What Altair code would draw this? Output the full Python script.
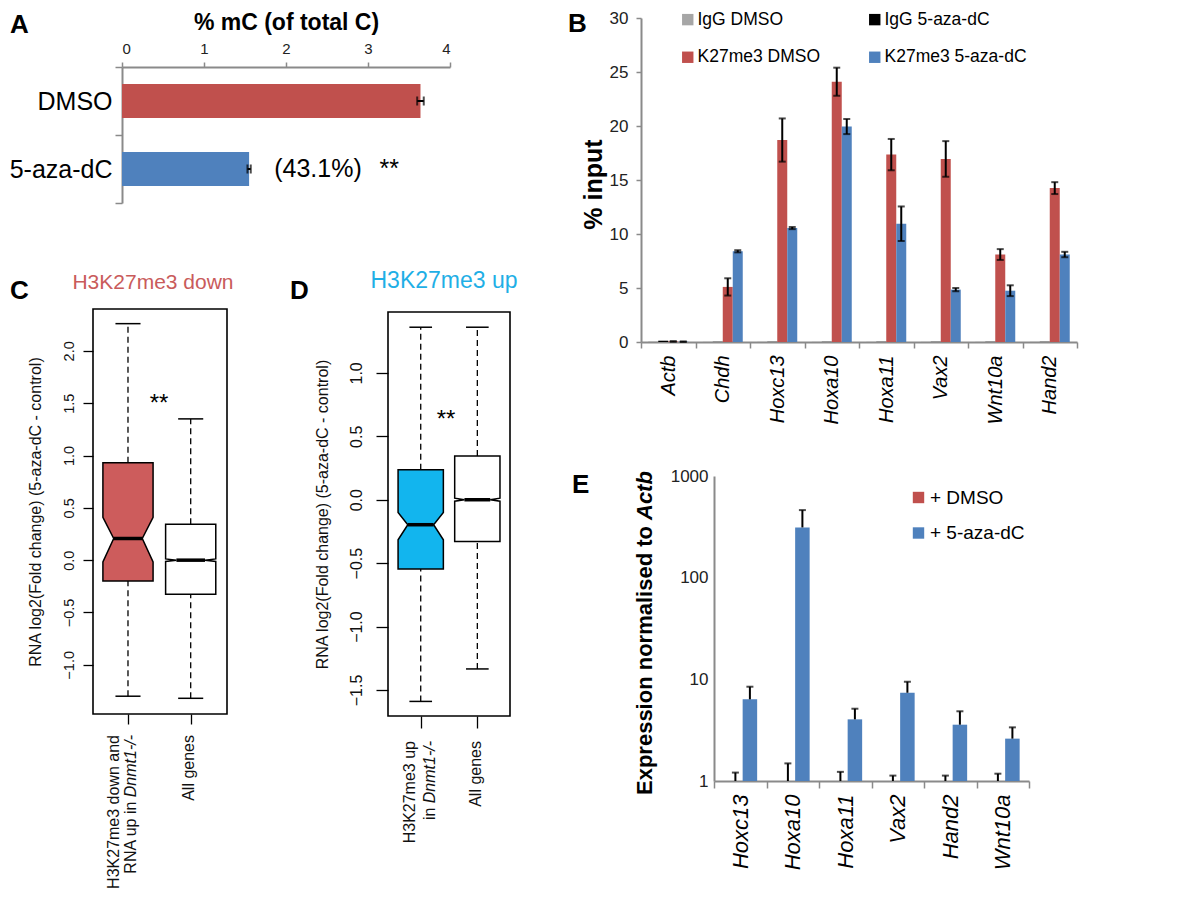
import altair as alt
import pandas as pd

FONT = "Liberation Sans, Arial, Helvetica, sans-serif"
RED = "#C0504D"
BLUE = "#4F81BD"
IGG_GREY = "#A6A6A6"
AX = "#8A8A8A"
W, H = 1184, 881

# ---------------- Panel A data ----------------
a_cond = ["DMSO", "5-aza-dC"]
a_val = [3.64, 1.55]
a_err = [0.04, 0.02]
a_note_text = ["(43.1%)", "**"]
a_note_x = [2.39, 3.26]

# ---------------- Panel B data ----------------
b_genes = ["Actb", "Chdh", "Hoxc13", "Hoxa10", "Hoxa11", "Vax2", "Wnt10a", "Hand2"]
b_series = ["IgG DMSO", "IgG 5-aza-dC", "K27me3 DMSO", "K27me3 5-aza-dC"]
b_igg_dmso = [0.05, 0.02, 0.02, 0.02, 0.02, 0.02, 0.02, 0.02]
b_igg_aza = [0.12, 0.02, 0.02, 0.02, 0.02, 0.02, 0.02, 0.02]
b_k27_dmso = [0.05, 5.1, 18.7, 24.1, 17.35, 16.95, 8.1, 14.25]
b_k27_dmso_err = [0.03, 0.8, 2.0, 1.3, 1.45, 1.65, 0.5, 0.55]
b_k27_aza = [0.03, 8.4, 10.55, 19.95, 10.95, 4.85, 4.75, 8.1]
b_k27_aza_err = [0.02, 0.1, 0.1, 0.7, 1.6, 0.15, 0.5, 0.25]

# ---------------- Panel C data (box stats) ----------------
c_names = ["H3K27me3 down", "All genes"]
c_q1 = [-0.20, -0.325]
c_med = [0.207, 0.0]
c_q3 = [0.93, 0.344]
c_nlo = [-0.016, -0.012]
c_nhi = [0.41, 0.012]
c_wlo = [-1.30, -1.32]
c_whi = [2.26, 1.35]

# ---------------- Panel D data (box stats) ----------------
d_names = ["H3K27me3 up", "All genes"]
d_q1 = [-0.547, -0.329]
d_med = [-0.197, 0.0]
d_q3 = [0.237, 0.345]
d_nlo = [-0.316, -0.012]
d_nhi = [-0.10, 0.012]
d_wlo = [-1.59, -1.334]
d_whi = [1.36, 1.36]

# ---------------- Panel E data ----------------
e_genes = ["Hoxc13", "Hoxa10", "Hoxa11", "Vax2", "Hand2", "Wnt10a"]
e_conds = ["+ DMSO", "+ 5-aza-dC"]
e_dmso = [1, 1, 1, 1, 1, 1]
e_dmso_hi = [1.21, 1.49, 1.23, 1.13, 1.13, 1.18]
e_aza = [6.36, 312, 4.04, 7.38, 3.58, 2.61]
e_aza_hi = [8.46, 462, 5.14, 9.47, 4.85, 3.37]

# text
panel_letters = ["A", "B", "C", "D", "E"]
letter_xy = [(2, 25), (560, 24), (2, 291), (282, 291), (564, 485)]

units = []


def one(t):
    return pd.DataFrame({"t": [t]})


def text_at(t, x, y, **kw):
    return alt.Chart(one(t)).mark_text(**kw).encode(
        x=alt.value(x), y=alt.value(y), text="t:N")


# =============== Panel A ===============
xA = alt.Scale(domain=[0, 4], range=[114, 442], nice=False, zero=True)
yA = alt.Scale(domain=a_cond, range=[59, 195], paddingInner=0, paddingOuter=0)
cA = alt.Scale(domain=a_cond, range=[RED, BLUE])
a_df = pd.DataFrame({"cond": a_cond, "val": a_val,
                     "lo": [v - e for v, e in zip(a_val, a_err)],
                     "hi": [v + e for v, e in zip(a_val, a_err)]})
units.append(alt.Chart(a_df).mark_bar(size=34).encode(
    x=alt.X("val:Q", scale=xA, axis=alt.Axis(
        orient="top", offset=-59, values=[0, 1, 2, 3, 4], format="d",
        tickSize=5, tickColor=AX, tickWidth=1.5, domainColor=AX, domainWidth=2,
        labelFontSize=15, labelColor="#222", labelPadding=6,
        title="% mC (of total C)", titleFontSize=23, titleFontWeight="bold",
        titlePadding=7, titleColor="black", grid=False)),
    y=alt.Y("cond:N", scale=yA, axis=alt.Axis(
        orient="left", offset=-114, tickBand="extent", tickSize=7, tickColor=AX,
        tickWidth=1.5, domainColor=AX, domainWidth=2, labelFontSize=25,
        labelColor="black", labelPadding=3, title=None, grid=False)),
    color=alt.Color("cond:N", scale=cA, legend=None)))
units.append(alt.Chart(a_df).mark_rule(color="black", strokeWidth=2).encode(
    x=alt.X("lo:Q", scale=xA, axis=None), x2="hi:Q",
    y=alt.Y("cond:N", scale=yA, axis=None)))
for f in ["lo", "hi"]:
    units.append(alt.Chart(a_df).mark_tick(color="black", thickness=2, size=9).encode(
        x=alt.X(f + ":Q", scale=xA, axis=None), y=alt.Y("cond:N", scale=yA, axis=None)))
a_note_df = pd.DataFrame({"t": a_note_text, "x": a_note_x, "cond": [a_cond[1]] * 2})
units.append(alt.Chart(a_note_df).mark_text(fontSize=25, baseline="middle", color="black").encode(
    x=alt.X("x:Q", scale=xA, axis=None), y=alt.Y("cond:N", scale=yA, axis=None), text="t:N"))

# =============== Panel B ===============
xB = alt.Scale(domain=b_genes, range=[633, 1069], paddingInner=0, paddingOuter=0)
oB = alt.Scale(domain=b_series, paddingInner=0, paddingOuter=0.725)
yB = alt.Scale(domain=[0, 30], range=[334, 10], nice=False, zero=True)
# legend fills column by column -> order the colour domain for a 2x2 row layout
b_leg_order = [b_series[0], b_series[2], b_series[1], b_series[3]]
b_colors = {b_series[0]: IGG_GREY, b_series[1]: "#000000", b_series[2]: RED, b_series[3]: BLUE}
cB = alt.Scale(domain=b_leg_order, range=[b_colors[s] for s in b_leg_order])
b_rows = []
for i, g in enumerate(b_genes):
    for s, arr in zip(b_series, [b_igg_dmso, b_igg_aza, b_k27_dmso, b_k27_aza]):
        b_rows.append({"gene": g, "series": s, "val": arr[i]})
b_df = pd.DataFrame(b_rows)
b_erows = []
for i, g in enumerate(b_genes):
    for s, arr, err in [(b_series[2], b_k27_dmso, b_k27_dmso_err), (b_series[3], b_k27_aza, b_k27_aza_err)]:
        b_erows.append({"gene": g, "series": s, "lo": arr[i] - err[i], "hi": arr[i] + err[i]})
b_edf = pd.DataFrame(b_erows)
units.append(alt.Chart(b_df).mark_bar().encode(
    x=alt.X("gene:N", scale=xB, axis=alt.Axis(
        orient="bottom", offset=334 - H, tickBand="extent", tickSize=6, tickColor=AX,
        tickWidth=1.5, domainColor=AX, domainWidth=2, labelAngle=270,
        labelFontSize=20, labelFontStyle="italic", labelColor="black",
        labelPadding=7, title=None, grid=False)),
    xOffset=alt.XOffset("series:N", scale=oB),
    y=alt.Y("val:Q", scale=yB, axis=alt.Axis(
        orient="left", offset=-633, values=[0, 5, 10, 15, 20, 25, 30],
        tickSize=5, tickColor=AX, tickWidth=1.5, domainColor=AX, domainWidth=2,
        labelFontSize=17, labelColor="#222", labelPadding=8,
        title="% input", titleFontSize=25, titleFontWeight="bold",
        titleColor="black", titlePadding=3, titleY=176, grid=False)),
    color=alt.Color("series:N", scale=cB, legend=alt.Legend(
        title=None, orient="none", legendX=671, legendY=2.5, columns=2,
        columnPadding=45, rowPadding=19, symbolType="square", symbolSize=130,
        symbolStrokeWidth=0, labelFontSize=17.5, labelOffset=1, labelColor="black",
        padding=0))))
units.append(alt.Chart(b_edf).mark_rule(color="black", strokeWidth=2).encode(
    x=alt.X("gene:N", scale=xB, axis=None), xOffset=alt.XOffset("series:N", scale=oB),
    y=alt.Y("lo:Q", scale=yB, axis=None), y2="hi:Q"))
for f in ["lo", "hi"]:
    units.append(alt.Chart(b_edf).mark_tick(color="black", thickness=2, size=7).encode(
        x=alt.X("gene:N", scale=xB, axis=None), xOffset=alt.XOffset("series:N", scale=oB),
        y=alt.Y(f + ":Q", scale=yB, axis=None)))


# =============== Panels C and D (notched boxplots) ===============
def box_panel(p):
    out = []
    xs = alt.Scale(domain=p["xdom"], range=p["xr"], nice=False, zero=False)
    ys = alt.Scale(domain=p["ydom"], range=p["yr"], nice=False, zero=False)
    names = p["names"]
    pos = [1, 2]
    hw, nf, cw = 0.4, 0.57, 0.2
    rows = []
    for i, nm in enumerate(names):
        c = pos[i]
        L, R = c - hw, c + hw
        for yv, xl, xr_ in [(p["q1"][i], L, R), (p["nlo"][i], L, R),
                            (p["med"][i], c - hw * nf, c + hw * nf),
                            (p["nhi"][i], L, R), (p["q3"][i], L, R)]:
            rows.append({"box": nm, "y": yv, "xl": xl, "xr": xr_})
    poly = pd.DataFrame(rows)
    st = pd.DataFrame({
        "box": names, "pos": pos, "q1": p["q1"], "q3": p["q3"], "med": p["med"],
        "wlo": p["wlo"], "whi": p["whi"],
        "ml": [c - hw * nf for c in pos], "mr": [c + hw * nf for c in pos],
        "cl": [c - cw for c in pos], "cr": [c + cw for c in pos]})
    X = lambda f: alt.X(f, scale=xs, axis=None)
    Y = lambda f: alt.Y(f, scale=ys, axis=None)

    out.append(alt.Chart(one("f")).mark_rect(fillOpacity=0, stroke="black", strokeWidth=1.6).encode(
        x=alt.X(datum=p["xdom"][0], type="quantitative", scale=xs, axis=alt.Axis(
            orient="bottom", offset=p["yr"][0] - H, values=pos, labels=False,
            domain=False, tickSize=p["tick"], tickColor="black", tickWidth=1.3,
            title=None, grid=False)),
        x2=alt.X2(datum=p["xdom"][1]),
        y=alt.Y(datum=p["ydom"][0], type="quantitative", scale=ys, axis=alt.Axis(
            orient="left", offset=-p["xr"][0], values=p["yticks"], format=".1f",
            labelAngle=270, labelAlign="center", labelBaseline="bottom",
            labelFontSize=p["lfs"], labelColor="#111", labelPadding=p["lpad"],
            tickSize=p["tick"], tickColor="black", tickWidth=1.3, domain=False,
            title="RNA log2(Fold change) (5-aza-dC - control)", titleFontSize=16,
            titleFontWeight="normal", titleColor="#111", titlePadding=p["tpad"],
            grid=False)),
        y2=alt.Y2(datum=p["ydom"][1])))
    out.append(alt.Chart(st).mark_rule(color="black", strokeWidth=1.3, strokeDash=[6, 4]).encode(
        x=X("pos:Q"), y=Y("q3:Q"), y2="whi:Q"))
    out.append(alt.Chart(st).mark_rule(color="black", strokeWidth=1.3, strokeDash=[6, 4]).encode(
        x=X("pos:Q"), y=Y("wlo:Q"), y2="q1:Q"))
    out.append(alt.Chart(st).mark_rule(color="black", strokeWidth=1.5).encode(
        x=X("cl:Q"), x2="cr:Q", y=Y("whi:Q")))
    out.append(alt.Chart(st).mark_rule(color="black", strokeWidth=1.5).encode(
        x=X("cl:Q"), x2="cr:Q", y=Y("wlo:Q")))
    out.append(alt.Chart(poly).mark_area(orient="horizontal", stroke="black", strokeWidth=1.5).encode(
        y=Y("y:Q"), x=alt.X("xl:Q", scale=xs, axis=None, stack=None), x2="xr:Q",
        fill=alt.Fill("box:N", scale=alt.Scale(domain=names, range=p["fills"]), legend=None)))
    out.append(alt.Chart(st).mark_rule(color="black", strokeWidth=3.5).encode(
        x=X("ml:Q"), x2="mr:Q", y=Y("med:Q")))
    out.append(alt.Chart(pd.DataFrame({"t": ["**"], "x": [p["star"][0]], "y": [p["star"][1]]})).mark_text(
        fontSize=24, baseline="alphabetic", color="black").encode(
        x=X("x:Q"), y=Y("y:Q"), text="t:N"))
    for (t, bx, dx, dy, style) in p["xlabels"]:
        out.append(alt.Chart(pd.DataFrame({"t": [t], "pos": [bx]})).mark_text(
            angle=270, align="right", baseline="middle", dx=dx, dy=dy, fontSize=16,
            fontStyle=style, color="#111").encode(
            x=X("pos:Q"), y=alt.value(p["lab_y"]), text="t:N"))
    out.append(text_at(p["title"], p["title_xy"][0], p["title_xy"][1], fontSize=p["title_fs"],
                       color=p["title_color"], align="center", baseline="alphabetic"))
    return out


DN_W = 62.2  # width of italic "Dnmt1-/-" at 16px
units += box_panel(dict(
    names=c_names, q1=c_q1, med=c_med, q3=c_q3, nlo=c_nlo, nhi=c_nhi, wlo=c_wlo, whi=c_whi,
    xdom=[0.442, 2.579], ydom=[-1.47, 2.40], xr=[85, 219], yr=[706, 301],
    yticks=[-1.0, -0.5, 0.0, 0.5, 1.0, 1.5, 2.0], tick=10, lfs=14.5, lpad=7, tpad=18,
    fills=["#CD5C5C", "#FFFFFF"], star=(1.495, 1.43),
    title="H3K27me3 down", title_xy=(145, 281), title_fs=21, title_color="#C95B5B",
    lab_y=727,
    xlabels=[("H3K27me3 down and", 1, 0, -14, "normal"),
             ("RNA up in", 1, -(DN_W + 4.4), 3, "normal"),
             ("Dnmt1-/-", 1, 0, 3, "italic"),
             ("All genes", 2, 0, -2, "normal")]))
units += box_panel(dict(
    names=d_names, q1=d_q1, med=d_med, q3=d_q3, nlo=d_nlo, nhi=d_nhi, wlo=d_wlo, whi=d_whi,
    xdom=[0.422, 2.577], ydom=[-1.705, 1.48], xr=[380, 502], yr=[708, 304],
    yticks=[-1.5, -1.0, -0.5, 0.0, 0.5, 1.0], tick=12, lfs=16, lpad=12, tpad=18,
    fills=["#12B5EE", "#FFFFFF"], star=(1.447, 0.571),
    title="H3K27me3 up", title_xy=(436, 280), title_fs=23, title_color="#1FAFE6",
    lab_y=733,
    xlabels=[("H3K27me3 up", 1, 0, -10.7, "normal"),
             ("in", 1, -(DN_W + 4.4), 9.3, "normal"),
             ("Dnmt1-/-", 1, 0, 9.3, "italic"),
             ("All genes", 2, 0, -1, "normal")]))

# =============== Panel E ===============
xE = alt.Scale(domain=e_genes, range=[706, 1021], paddingInner=0, paddingOuter=0)
oE = alt.Scale(domain=e_conds, paddingInner=0, paddingOuter=0.81, align=0.602)
yE = alt.Scale(type="log", domain=[1, 1000], range=[773, 468], nice=False)
cE = alt.Scale(domain=e_conds, range=[RED, BLUE])
e_rows = []
for i, g in enumerate(e_genes):
    e_rows.append({"gene": g, "cond": e_conds[0], "val": e_dmso[i], "hi": e_dmso_hi[i]})
    e_rows.append({"gene": g, "cond": e_conds[1], "val": e_aza[i], "hi": e_aza_hi[i]})
e_df = pd.DataFrame(e_rows)
units.append(alt.Chart(e_df).mark_bar().encode(
    x=alt.X("gene:N", scale=xE, axis=alt.Axis(
        orient="bottom", offset=773 - H, tickBand="extent", tickSize=7, tickColor=AX,
        tickWidth=1.5, domainColor=AX, domainWidth=2, labelAngle=270,
        labelFontSize=22, labelFontStyle="italic", labelColor="black",
        labelPadding=6, title=None, grid=False)),
    xOffset=alt.XOffset("cond:N", scale=oE),
    y=alt.Y("val:Q", scale=yE, axis=alt.Axis(
        orient="left", offset=-706, values=[1, 10, 100, 1000], format="d",
        tickSize=0, domainColor=AX, domainWidth=2, labelFontSize=17,
        labelColor="#222", labelPadding=6, title=None, grid=False)),
    y2=alt.Y2(datum=1),
    color=alt.Color("cond:N", scale=cE, legend=alt.Legend(
        title=None, orient="none", legendX=901, legendY=480, rowPadding=15.5,
        symbolType="square", symbolSize=130, symbolStrokeWidth=0, labelFontSize=19,
        labelOffset=2, labelColor="black", padding=0))))
units.append(alt.Chart(e_df).mark_rule(color="black", strokeWidth=2).encode(
    x=alt.X("gene:N", scale=xE, axis=None), xOffset=alt.XOffset("cond:N", scale=oE),
    y=alt.Y("val:Q", scale=yE, axis=None), y2="hi:Q"))
units.append(alt.Chart(e_df).mark_tick(color="black", thickness=2, size=7).encode(
    x=alt.X("gene:N", scale=xE, axis=None), xOffset=alt.XOffset("cond:N", scale=oE),
    y=alt.Y("hi:Q", scale=yE, axis=None)))
units.append(text_at("Expression normalised to ", 637, 787, fontSize=22, fontWeight="bold",
                     angle=270, align="left", baseline="middle", color="black"))
units.append(text_at("Actb", 637, 787, fontSize=22, fontWeight="bold", fontStyle="italic",
                     angle=270, align="left", baseline="middle", dx=275, color="black"))

# =============== Panel letters ===============
for t, (x, y) in zip(panel_letters, letter_xy):
    units.append(text_at(t, x, y, fontSize=26, fontWeight="bold", align="left",
                         baseline="alphabetic", color="black"))

chart = alt.layer(*units).resolve_scale(
    x="independent", y="independent", color="independent", fill="independent",
    xOffset="independent").resolve_axis(x="independent", y="independent").properties(
    width=W, height=H, padding=0, autosize=alt.AutoSizeParams(type="none"),
    background="white").configure(font=FONT).configure_view(stroke=None)

chart.save("out.html", embed_options={"renderer": "svg", "actions": False})
